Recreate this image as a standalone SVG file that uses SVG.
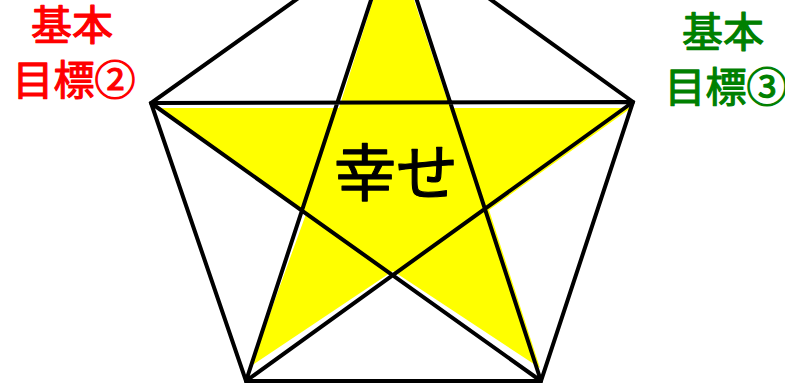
<svg xmlns="http://www.w3.org/2000/svg" width="785" height="385" viewBox="0 0 785 385">
<style>
.ln{fill:none;stroke:#000;stroke-width:4;stroke-linejoin:miter;stroke-linecap:round}
.jp{font-family:"Noto Sans CJK JP","Noto Sans",sans-serif;text-anchor:middle;stroke-width:1.2;stroke-linejoin:round}
</style>
<rect width="785" height="385" fill="#fff"/>
<g id="star-fill">
<polygon fill="#ffff00" points="159,108 339,108 393,-63 450,108 631,108 489,210 540,368 393,271 251,366 306,214"/>
</g>
<g id="connectors">
<polygon class="ln" points="394,-70 633,102 541,381 246,381 151,103"/>
<path class="ln" d="M151,103 L633,102 M394,-70 L246,381 M394,-70 L541,381 M151,103 L541,381 M633,102 L246,381"/>
</g>
<g id="happiness">
<text class="jp" x="396" y="196" font-size="62" fill="#000" stroke="#000" stroke-width="1.6">幸せ</text>
</g>
<g id="goal2">
<text class="jp" x="72" y="40" font-size="41" fill="#ff0000" stroke="#ff0000">基本</text>
<text class="jp" x="74" y="95" font-size="41" fill="#ff0000" stroke="#ff0000">目標②</text>
</g>
<g id="goal3">
<text class="jp" x="723" y="47" font-size="41" fill="#008000" stroke="#008000">基本</text>
<text class="jp" x="726" y="102" font-size="41" fill="#008000" stroke="#008000">目標③</text>
</g>
</svg>
